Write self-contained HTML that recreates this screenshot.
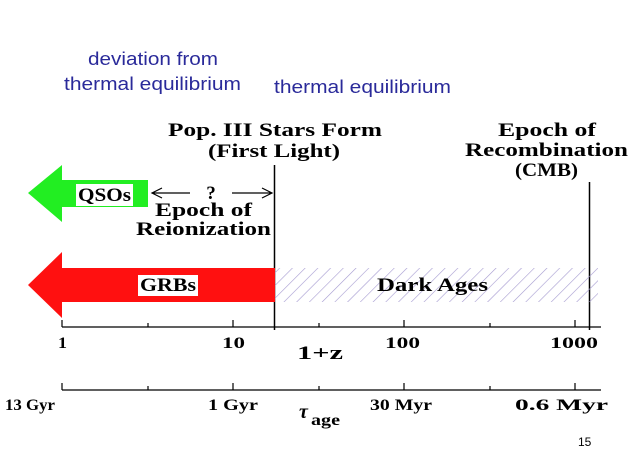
<!DOCTYPE html>
<html><head><style>
body{margin:0;background:#fff}
svg{display:block}
.s{font-family:"Liberation Sans",sans-serif;fill:#2a2a9a;font-size:18px}
.r{font-family:"Liberation Serif",serif;font-weight:bold;fill:#000;font-size:19px}
.t{font-family:"Liberation Serif",serif;font-weight:bold;fill:#000;font-size:16px}
</style></head><body>
<svg width="628" height="472" viewBox="0 0 628 472" xmlns="http://www.w3.org/2000/svg">
<defs><pattern id="h" width="9" height="9" patternUnits="userSpaceOnUse" patternTransform="rotate(45)">
<line x1="0" y1="0" x2="0" y2="9" stroke="#a59ad0" stroke-width="1.2"/></pattern></defs>
<text class="s" x="88" y="65" textLength="130" lengthAdjust="spacingAndGlyphs">deviation from</text>
<text class="s" x="64" y="90" textLength="177" lengthAdjust="spacingAndGlyphs">thermal equilibrium</text>
<text class="s" x="274" y="93" textLength="177" lengthAdjust="spacingAndGlyphs">thermal equilibrium</text>
<text class="r" x="168" y="136" textLength="214" lengthAdjust="spacingAndGlyphs">Pop. III Stars Form</text>
<text class="r" x="208" y="157" textLength="132" lengthAdjust="spacingAndGlyphs">(First Light)</text>
<text class="r" x="498" y="136" textLength="98" lengthAdjust="spacingAndGlyphs">Epoch of</text>
<text class="r" x="465" y="156" textLength="163" lengthAdjust="spacingAndGlyphs">Recombination</text>
<text class="r" x="515" y="176" textLength="63" lengthAdjust="spacingAndGlyphs">(CMB)</text>
<line x1="274.5" y1="165" x2="274.5" y2="330" stroke="#000" stroke-width="1.5"/>
<line x1="589.5" y1="182" x2="589.5" y2="330" stroke="#000" stroke-width="1.5"/>
<polygon points="28,193 62,165 62,180 148,180 148,207 62,207 62,222" fill="#22ee22"/>
<rect x="76" y="184" width="57" height="22" fill="#fff"/>
<text class="r" x="78" y="201" textLength="53" lengthAdjust="spacingAndGlyphs">QSOs</text>
<path d="M152,193 H190 M232,193 H272 M162,188 L152,193 L162,198 M262,188 L272,193 L262,198" stroke="#000" fill="none" stroke-width="1.2"/>
<text class="r" x="211" y="199" text-anchor="middle">?</text>
<text class="r" x="155" y="216" textLength="97" lengthAdjust="spacingAndGlyphs">Epoch of</text>
<text class="r" x="136" y="235" textLength="135" lengthAdjust="spacingAndGlyphs">Reionization</text>
<rect x="275" y="268" width="323" height="34" fill="url(#h)"/>
<polygon points="28,285 62,252 62,268 275,268 275,302 62,302 62,318" fill="#ff1010"/>
<rect x="138" y="275" width="60" height="21" fill="#fff"/>
<text class="r" x="140" y="291" textLength="56" lengthAdjust="spacingAndGlyphs">GRBs</text>
<text class="r" x="377" y="291" textLength="111" lengthAdjust="spacingAndGlyphs">Dark Ages</text>
<g stroke="#000" stroke-width="1.2">
<line x1="62" y1="327" x2="601" y2="327"/>
<line x1="62" y1="320" x2="62" y2="327"/><line x1="148" y1="323" x2="148" y2="327"/>
<line x1="233" y1="320" x2="233" y2="327"/><line x1="319" y1="323" x2="319" y2="327"/>
<line x1="404" y1="320" x2="404" y2="327"/><line x1="490" y1="323" x2="490" y2="327"/>
<line x1="575" y1="320" x2="575" y2="327"/>
<line x1="62" y1="390" x2="601" y2="390"/>
<line x1="62" y1="383" x2="62" y2="390"/><line x1="148" y1="386" x2="148" y2="390"/>
<line x1="233" y1="383" x2="233" y2="390"/><line x1="319" y1="386" x2="319" y2="390"/>
<line x1="404" y1="383" x2="404" y2="390"/><line x1="490" y1="386" x2="490" y2="390"/>
<line x1="575" y1="383" x2="575" y2="390"/>
</g>
<text class="t" x="58" y="348" textLength="9" lengthAdjust="spacingAndGlyphs">1</text>
<text class="t" x="222" y="348" textLength="23" lengthAdjust="spacingAndGlyphs">10</text>
<text class="t" x="385" y="348" textLength="35" lengthAdjust="spacingAndGlyphs">100</text>
<text class="t" x="550" y="348" textLength="48" lengthAdjust="spacingAndGlyphs">1000</text>
<text class="r" x="297" y="359" textLength="46" lengthAdjust="spacingAndGlyphs">1+z</text>
<text class="t" x="5" y="410" textLength="50" lengthAdjust="spacingAndGlyphs">13 Gyr</text>
<text class="t" x="208" y="410" textLength="50" lengthAdjust="spacingAndGlyphs">1 Gyr</text>
<text class="t" x="370" y="410" textLength="62" lengthAdjust="spacingAndGlyphs">30 Myr</text>
<text class="t" x="515" y="410" textLength="93" lengthAdjust="spacingAndGlyphs">0.6 Myr</text>
<text x="299" y="418" font-family="Liberation Serif,serif" font-style="italic" font-weight="bold" font-size="20">τ</text>
<text class="t" x="311" y="425" font-size="13" textLength="29" lengthAdjust="spacingAndGlyphs">age</text>
<text x="578" y="446" font-family="Liberation Sans,sans-serif" font-size="12" fill="#000">15</text>
</svg>
</body></html>
